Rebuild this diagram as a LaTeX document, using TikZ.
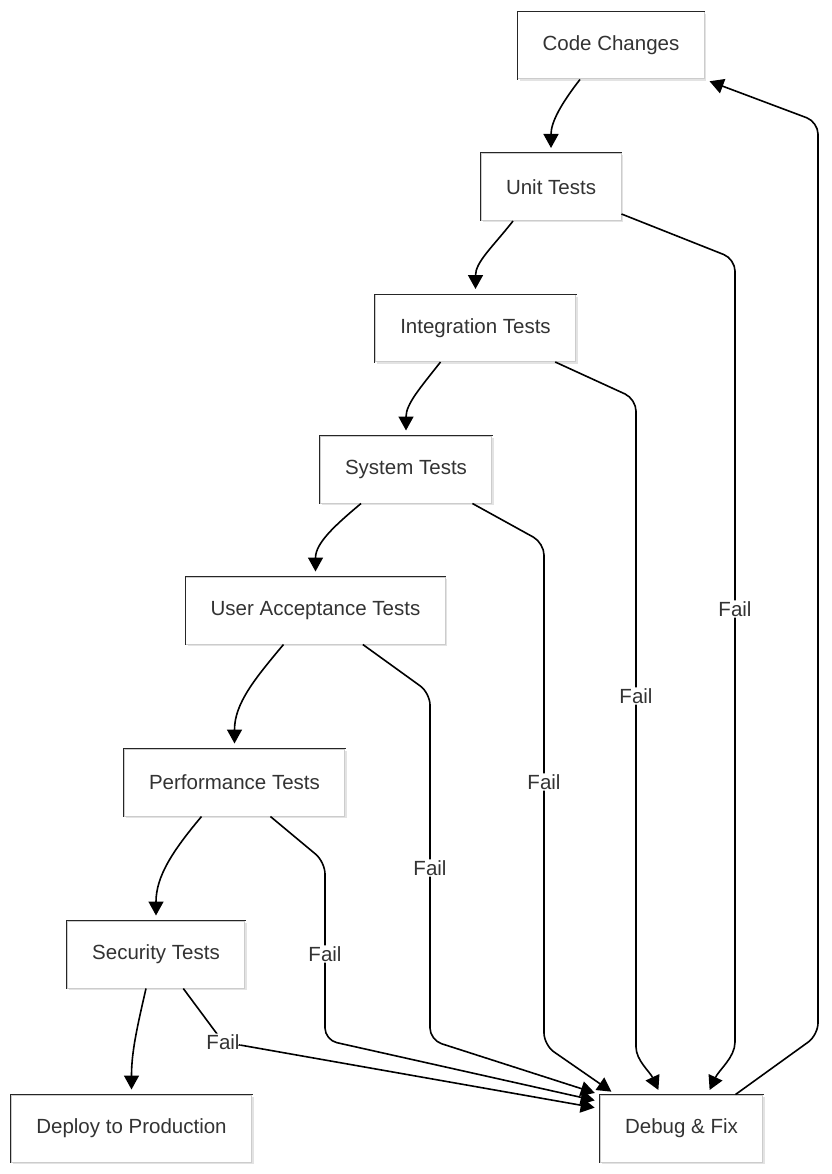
\documentclass[tikz,border=0pt]{standalone}
\usepackage{fontspec}
\setmainfont{Liberation Sans}
\usetikzlibrary{arrows.meta,shadows}

\definecolor{inkgray}{HTML}{333333}

\tikzset{
  darkedge/.style = {draw = black!85, line width = 1pt, line cap = rect},
  stage/.style = {draw = black!20, line width = 1pt, fill = white,
    minimum height = 67pt, inner xsep = 25pt, text = inkgray,
    font = \fontsize{20.5}{24}\selectfont,
    drop shadow = {shadow xshift = 2pt, shadow yshift = -2pt, opacity = 0.22},
    append after command = {
      (\tikzlastnode.south west) edge[darkedge] (\tikzlastnode.north west)
      (\tikzlastnode.north west) edge[darkedge] (\tikzlastnode.north east)}},
  flow/.style = {line width = 1.6pt, -{Triangle[length = 14pt, width = 15pt]},
    shorten > = 5pt},
  failure/.style = {flow, rounded corners = 12pt},
  faillabel/.style = {fill = white, text = inkgray, inner sep = 1pt,
    font = \fontsize{20.5}{24}\selectfont}
}

\begin{document}
\begin{tikzpicture} [x = 1pt, y = -1pt]
\useasboundingbox (0, 0) rectangle (831, 1174);
% stages
\node[stage] (code) at (611, 45.5){Code Changes};
\node[stage] (unit) at (551, 187){Unit Tests};
\node[stage] (integ) at (475.5, 328){Integration Tests};
\node[stage] (system) at (406, 469.5){System Tests};
\node[stage] (uat) at (315.5, 610.5){User Acceptance Tests};
\node[stage] (perf) at (234.5, 782.5){Performance Tests};
\node[stage] (secur) at (156, 954.5){Security Tests};
\node[stage] (deploy) at (131.5, 1128.5){Deploy to Production};
\node[stage] (debug) at (681.5, 1128.5){Debug \& Fix};
% pass chain
\draw[flow] ([xshift = -31pt]code.south) to[out = -128, in = 90] (unit.north);
\draw[flow] ([xshift = -38pt]unit.south) to[out = -128, in = 90] (integ.north);
\draw[flow] ([xshift = -35pt]integ.south) to[out = -128, in = 90] (system.north);
\draw[flow] ([xshift = -45pt]system.south) to[out = -140, in = 90] (uat.north);
\draw[flow] ([xshift = -32pt]uat.south) to[out = -130, in = 90] (perf.north);
\draw[flow] ([xshift = -33pt]perf.south) to[out = -130, in = 90] (secur.north);
\draw[flow] ([xshift = -10pt]secur.south) to[out = -103, in = 90] (deploy.north);
% fail branches
\draw[failure] ([yshift = 7pt]unit.south east) -- (735, 259)
  -- (735, 609) node[faillabel]{Fail}
  -- (735, 1030) to[out = -90, in = 65] ([xshift = 26pt]debug.north);
\draw[failure] ([xshift = -21pt]integ.south east) -- (636, 399)
  -- (636, 696) node[faillabel]{Fail}
  -- (636, 1035) to[out = -90, in = 115] ([xshift = -21pt]debug.north);
\draw[failure] ([xshift = -20pt]system.south east) -- (544, 543)
  -- (544, 782) node[faillabel]{Fail}
  -- (544, 1045) -- ([xshift = -66pt]debug.north);
\draw[failure] ([xshift = -83pt]uat.south east) -- (430, 693)
  -- (430, 868) node[faillabel]{Fail}
  -- (430, 1040) -- (debug.north west);
\draw[failure] ([xshift = -75pt]perf.south east) -- (325, 862)
  -- (325, 954) node[faillabel]{Fail}
  -- (325, 1040) -- ([yshift = -7pt]debug.north west);
\draw[failure] ([xshift = -62pt]secur.south east)
  -- (223, 1042) node[faillabel]{Fail}
  -- ([yshift = -14pt]debug.north west);
% back to the start
\draw[failure] ([xshift = 54pt]debug.north) -- (818, 1035)
  -- (818, 122) -- (code.south east);
\end{tikzpicture}
\end{document}
